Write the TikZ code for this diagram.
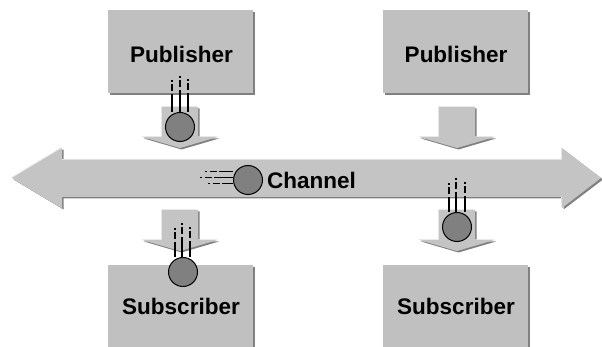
\documentclass[tikz,border=0pt]{standalone}
\usepackage{fontspec}
\setmainfont{Liberation Sans}
\usetikzlibrary{shadows}
\definecolor{boxgray}{HTML}{C0C0C0}
\definecolor{arrgray}{HTML}{C4C4C4}
\definecolor{shadgray}{HTML}{808080}
\definecolor{hilite}{HTML}{E6E6E6}
\definecolor{ballgray}{HTML}{808080}
\begin{document}
\begin{tikzpicture}[x=1pt,y=-1pt,
  box/.style={fill=boxgray, minimum width=145pt, minimum height=83pt, inner sep=0pt,
    font=\bfseries\fontsize{22.5}{24}\selectfont,
    drop shadow={shadow xshift=2pt, shadow yshift=-2pt, fill=shadgray, opacity=1}},
  lbl/.style={font=\bfseries\fontsize{22.5}{24}\selectfont, inner sep=0pt},
  ball/.style={circle, fill=ballgray, draw=black, line width=1pt, minimum size=29pt, inner sep=0pt},
  trail/.style={line width=1.5pt, dash pattern=on 2pt off 2.5pt on 7pt off 2.5pt on 30pt},
  downarrow/.pic={
    \fill[shadgray] (-16.5,1.5) -- (19.5,1.5) -- (19.5,31.5) -- (39,31.5) -- (1.5,42.5) -- (-36,31.5) -- (-16.5,31.5) -- cycle;
    \fill[hilite] (-19,-0.5) -- (17,-0.5) -- (17,29.5) -- (37,29.5) -- (0,40.5) -- (-38.5,29.5) -- (-19,29.5) -- cycle;
    \fill[arrgray] (-18,0) -- (18,0) -- (18,30) -- (37.5,30) -- (0,41) -- (-37.5,30) -- (-18,30) -- cycle;
  }
]
\useasboundingbox (0,0) rectangle (602,347);
\clip (0,0) rectangle (602,347);

% channel double arrow
\fill[shadgray] (13.5,179.5) -- (63.5,149.5) -- (63.5,161.5) -- (563.5,161.5) -- (563.5,149.5) -- (603,179.5) -- (563.5,209.5) -- (563.5,198.5) -- (63.5,198.5) -- (63.5,209.5) -- cycle;
\fill[hilite] (11,177.5) -- (61,147.5) -- (61,159) -- (561,159) -- (561,147.5) -- (600,177.5) -- (561,207.5) -- (561,196.5) -- (61,196.5) -- (61,207.5) -- cycle;
\fill[arrgray] (12,178) -- (62,148) -- (62,160) -- (562,160) -- (562,148) -- (601,178) -- (562,208) -- (562,197) -- (62,197) -- (62,208) -- cycle;

% boxes
\node[box] (pub1) at (180.5,51.5) {};
\node[box] (pub2) at (455.5,51.5) {};
\node[box, minimum height=90pt] (sub1) at (180.5,310) {};
\node[box, minimum height=90pt] (sub2) at (455.5,310) {};
\node[lbl] (tp1) at (181.5,54.5) {Publisher};
\node[lbl] (tp2) at (456,54.5) {Publisher};
\node[lbl] (ts1) at (181,306) {Subscriber};
\node[lbl] (ts2) at (456,306) {Subscriber};

% block arrows
\pic at (180,107) {downarrow};
\pic at (457,107) {downarrow};
\pic at (180,210) {downarrow};
\pic at (457,210) {downarrow};

% balls
\node[ball] (b1) at (180,127) {};
\node[ball] (b2) at (248,180) {};
\node[ball] (b3) at (183,272) {};
\node[ball] (b4) at (457,227) {};

\node[lbl, anchor=west] (ch) at (267,180.5) {Channel};

% motion trails
\coordinate (t1a) at (172,80);
\coordinate (t1b) at (180,76);
\coordinate (t1c) at (188,79);
\draw[trail] (t1a) -- (t1a |- b1.north);
\draw[trail] (t1b) -- (t1b |- b1.north);
\draw[trail] (t1c) -- (t1c |- b1.north);

\coordinate (t2a) at (205,171.5);
\coordinate (t2b) at (200,177.5);
\coordinate (t2c) at (208,183.5);
\draw[trail] (t2a) -- (t2a -| b2.west);
\draw[trail] (t2b) -- (t2b -| b2.west);
\draw[trail] (t2c) -- (t2c -| b2.west);

\coordinate (t3a) at (175,228);
\coordinate (t3b) at (182,223);
\coordinate (t3c) at (190,227);
\draw[trail] (t3a) -- (t3a |- b3.north);
\draw[trail] (t3b) -- (t3b |- b3.north);
\draw[trail] (t3c) -- (t3c |- b3.north);

\coordinate (t4a) at (449,183);
\coordinate (t4b) at (456,178);
\coordinate (t4c) at (465,182);
\draw[trail] (t4a) -- (t4a |- b4.north);
\draw[trail] (t4b) -- (t4b |- b4.north);
\draw[trail] (t4c) -- (t4c |- b4.north);
\end{tikzpicture}
\end{document}
